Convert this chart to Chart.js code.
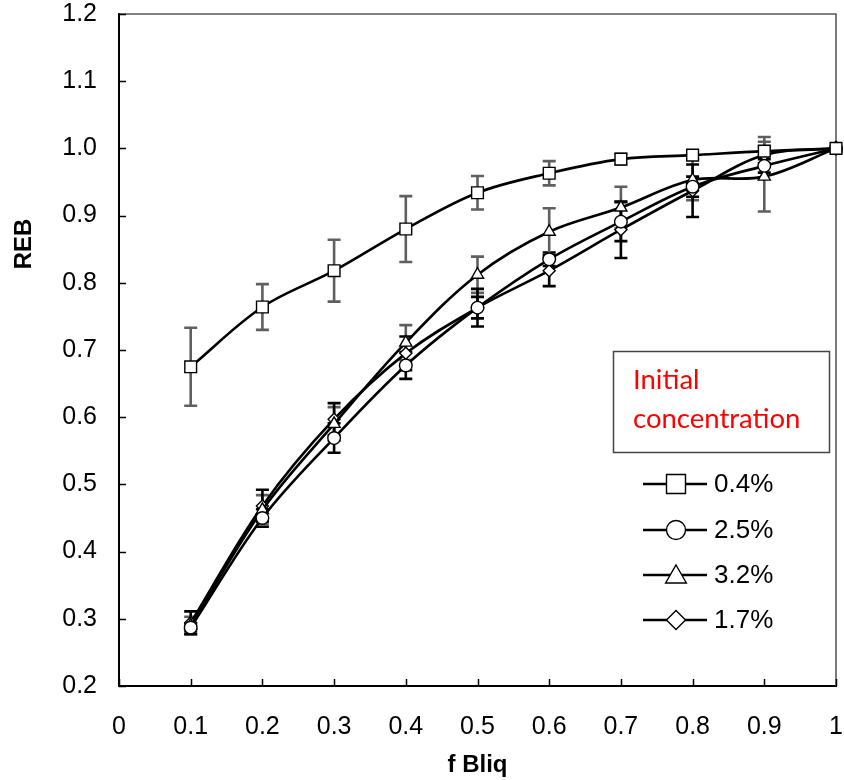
<!DOCTYPE html>
<html>
<head>
<meta charset="utf-8">
<script src="https://cdn.jsdelivr.net/npm/chart.js@4/dist/chart.umd.min.js"></script>
<style>
  html, body { margin: 0; padding: 0; background: #fff; }
  #wrap { width: 844px; height: 780px; position: relative; }
</style>
</head>
<body>
<div id="wrap"><canvas id="reb_canvas" width="844" height="780"></canvas></div>
<script>
// f Bliq values shared by every series
const f_bliq = [0.1, 0.2, 0.3, 0.4, 0.5, 0.6, 0.7, 0.8, 0.9, 1.0];

// REB means and error half-widths per initial concentration
const reb_04 = [0.675, 0.764, 0.818, 0.880, 0.934, 0.963, 0.984, 0.990, 0.996, 1.0];
const err_04 = [0.058, 0.034, 0.046, 0.049, 0.025, 0.018, 0.008, 0.006, 0.021, 0];
const reb_25 = [0.287, 0.450, 0.569, 0.677, 0.763, 0.835, 0.891, 0.943, 0.974, 1.0];
const err_25 = [0.006, 0.013, 0.022, 0.020, 0.016, 0.010, 0.029, 0.015, 0.010, 0];
const reb_32 = [0.290, 0.462, 0.590, 0.711, 0.812, 0.876, 0.912, 0.953, 0.958, 1.0];
const err_32 = [0.013, 0.022, 0.025, 0.026, 0.027, 0.035, 0.031, 0.030, 0.052, 0];
const reb_17 = [0.294, 0.468, 0.597, 0.695, 0.763, 0.818, 0.879, 0.937, 0.990, 1.0];
const err_17 = [0.017, 0.024, 0.024, 0.025, 0.028, 0.023, 0.042, 0.039, 0.012, 0];

const series_labels = ['0.4%', '2.5%', '3.2%', '1.7%'];
const legend_title = ['Initial', 'concentration'];

const TICK_FONT = '"Liberation Sans", Arial, sans-serif';

function make_points(ys) {
  return f_bliq.map((x, i) => ({x: x, y: ys[i]}));
}

function series(label, ys, errs, style, radius, err_color) {
  return {
    label: label,
    data: make_points(ys),
    errors: errs,
    errColor: err_color,
    borderColor: '#000',
    borderWidth: 2.6,
    tension: 0.35,
    fill: false,
    clip: false,
    pointStyle: style,
    pointRadius: radius,
    pointHoverRadius: radius,
    pointBackgroundColor: '#fff',
    pointBorderColor: '#000',
    pointBorderWidth: 1.4
  };
}

// draws a marker shape, used for the hand-placed legend
function draw_marker(ctx, style, r, x, y) {
  ctx.save();
  ctx.fillStyle = '#fff';
  ctx.strokeStyle = '#000';
  ctx.lineWidth = 1.4;
  ctx.beginPath();
  if (style === 'rect') {
    ctx.rect(x - r, y - r, 2 * r, 2 * r);
  } else if (style === 'circle') {
    ctx.arc(x, y, r, 0, Math.PI * 2);
  } else if (style === 'triangle') {
    ctx.moveTo(x, y - r);
    ctx.lineTo(x + r * 0.866, y + r * 0.5);
    ctx.lineTo(x - r * 0.866, y + r * 0.5);
    ctx.closePath();
  } else {
    ctx.moveTo(x, y - r);
    ctx.lineTo(x + r, y);
    ctx.lineTo(x, y + r);
    ctx.lineTo(x - r, y);
    ctx.closePath();
  }
  ctx.fill();
  ctx.stroke();
  ctx.restore();
}

// keeps the plot box fixed: no extra room for overhanging tick labels
function no_label_padding(s) {
  s.paddingTop = 0;
  s.paddingBottom = 0;
  s.paddingLeft = 0;
  s.paddingRight = 0;
}

const error_bars = {
  id: 'error_bars',
  beforeDatasetsDraw(chart) {
    const ctx = chart.ctx;
    const xs = chart.scales.x, ys = chart.scales.y;
    chart.data.datasets.forEach((ds) => {
      ctx.save();
      ctx.strokeStyle = ds.errColor;
      ctx.lineWidth = 2.6;
      ds.data.forEach((p, i) => {
        const e = ds.errors[i];
        if (!e) return;
        const px = xs.getPixelForValue(p.x);
        const top = ys.getPixelForValue(p.y + e);
        const bot = ys.getPixelForValue(p.y - e);
        ctx.beginPath();
        ctx.moveTo(px, top); ctx.lineTo(px, bot);
        ctx.moveTo(px - 6.5, top); ctx.lineTo(px + 6.5, top);
        ctx.moveTo(px - 6.5, bot); ctx.lineTo(px + 6.5, bot);
        ctx.stroke();
      });
      ctx.restore();
    });
  }
};

const frame_and_legend = {
  id: 'frame_and_legend',
  beforeDatasetsDraw(chart) {
    const ctx = chart.ctx;
    const a = chart.chartArea;
    const xs = chart.scales.x, ys = chart.scales.y;
    ctx.save();
    // thin grey top and right edges
    ctx.strokeStyle = '#5a5a5a';
    ctx.lineWidth = 1.6;
    ctx.beginPath();
    ctx.moveTo(a.left, a.top); ctx.lineTo(a.right, a.top); ctx.lineTo(a.right, a.bottom);
    ctx.stroke();
    // inward tick marks
    ctx.strokeStyle = '#000';
    ctx.lineWidth = 1.5;
    ctx.beginPath();
    ys.ticks.forEach((t) => {
      const py = Math.round(ys.getPixelForValue(t.value)) + 0.5;
      ctx.moveTo(a.left, py); ctx.lineTo(a.left + 7, py);
    });
    xs.ticks.forEach((t) => {
      const px = Math.round(xs.getPixelForValue(t.value)) + 0.5;
      ctx.moveTo(px, a.bottom); ctx.lineTo(px, a.bottom - 7);
    });
    ctx.stroke();
    ctx.restore();
  },
  afterDraw(chart) {
    const ctx = chart.ctx;
    ctx.save();
    // y axis title
    ctx.translate(24, 244);
    ctx.rotate(-Math.PI / 2);
    ctx.font = 'bold 24px ' + TICK_FONT;
    ctx.fillStyle = '#000';
    ctx.textAlign = 'center';
    ctx.textBaseline = 'middle';
    ctx.fillText('REB', 0, 0);
    ctx.restore();

    ctx.save();
    // boxed legend heading
    ctx.fillStyle = '#fff';
    ctx.fillRect(613, 351, 217, 102);
    ctx.strokeStyle = '#444';
    ctx.lineWidth = 1.5;
    ctx.strokeRect(613.5, 351.5, 216, 101);
    ctx.fillStyle = '#ff0000';
    ctx.font = '27.5px Lato, "Open Sans", sans-serif';
    ctx.textAlign = 'left';
    ctx.textBaseline = 'alphabetic';
    ctx.fillText(legend_title[0], 633, 389);
    ctx.fillText(legend_title[1], 633, 428);

    // legend rows
    const rows = [
      {ds: 0, r: 9.5}, {ds: 1, r: 9.5}, {ds: 2, r: 12}, {ds: 3, r: 9.5}
    ];
    const row_y = [484, 530, 575, 620];
    ctx.font = '26px ' + TICK_FONT;
    ctx.textBaseline = 'middle';
    rows.forEach((row, i) => {
      const ds = chart.data.datasets[row.ds];
      const y = row_y[i];
      ctx.strokeStyle = '#000';
      ctx.lineWidth = 2.6;
      ctx.beginPath();
      ctx.moveTo(643, y); ctx.lineTo(707, y);
      ctx.stroke();
      draw_marker(ctx, ds.pointStyle, row.r, 676, row.ds === 2 ? y + 2 : y);
      ctx.fillStyle = '#000';
      ctx.fillText(series_labels[row.ds], 714, y + 1);
    });
    ctx.restore();
  }
};

const datasets = [
  series(series_labels[0], reb_04, err_04, 'rect', 8.3, '#5f5f5f'),
  series(series_labels[1], reb_25, err_25, 'circle', 6.3, '#000'),
  series(series_labels[2], reb_32, err_32, 'triangle', 7, '#5f5f5f'),
  series(series_labels[3], reb_17, err_17, 'rectRot', 6, '#000')
];

new Chart(document.getElementById('reb_canvas'), {
  type: 'line',
  data: {datasets: datasets},
  options: {
    responsive: false,
    animation: false,
    events: [],
    layout: {autoPadding: false, padding: {left: 0, top: 14, right: 8, bottom: 0}},
    plugins: {legend: {display: false}, tooltip: {enabled: false}},
    scales: {
      x: {
        type: 'linear',
        min: 0, max: 1,
        afterFit: (s) => { s.height = 94; no_label_padding(s); },
        grid: {display: false, drawTicks: false},
        border: {color: '#000', width: 2},
        ticks: {
          stepSize: 0.1,
          padding: 26,
          color: '#000',
          font: {family: TICK_FONT, size: 25},
          maxRotation: 0,
          callback: (v) => (v === 0 || v === 1) ? String(v) : Number(v).toFixed(1)
        },
        title: {
          display: true,
          text: 'f Bliq',
          color: '#000',
          font: {family: TICK_FONT, size: 24, weight: 'bold'},
          padding: {top: 12, bottom: 0}
        }
      },
      y: {
        min: 0.2, max: 1.2,
        afterFit: (s) => { s.width = 119; no_label_padding(s); },
        grid: {display: false, drawTicks: false},
        border: {color: '#000', width: 2},
        ticks: {
          stepSize: 0.1,
          padding: 22,
          color: '#000',
          font: {family: TICK_FONT, size: 25},
          callback: (v) => Number(v).toFixed(1)
        }
      }
    }
  },
  plugins: [error_bars, frame_and_legend]
});
</script>
</body>
</html>
